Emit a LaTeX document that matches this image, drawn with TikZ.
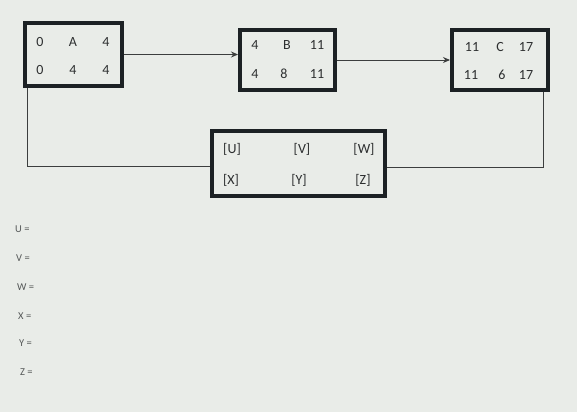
\documentclass[tikz,border=0pt]{standalone}
\usepackage{fontspec}
\setmainfont{Carlito}
\usetikzlibrary{arrows.meta}
\definecolor{bg}{RGB}{233,236,232}
\definecolor{boxc}{RGB}{28,33,36}
\definecolor{txt}{RGB}{45,47,48}
\definecolor{lbl}{RGB}{85,88,88}
\definecolor{linec}{RGB}{60,62,62}
\begin{document}
\begin{tikzpicture}[x=1bp,y=-1bp,
  taskbox/.style={draw=boxc,line width=4bp,fill=none,inner sep=0pt},
  cell/.style={text=txt,font=\fontsize{14bp}{16bp}\selectfont,inner sep=0pt},
  dcell/.style={text=txt,font=\fontsize{14bp}{16bp}\selectfont,inner sep=0pt},
  ans/.style={text=lbl,font=\fontsize{10.5bp}{12bp}\selectfont,inner sep=0pt,anchor=west},
  conn/.style={draw=linec,line width=0.9bp},
  arr/.style={conn,-{Stealth[length=7bp,width=6bp]}}]
\fill[bg] (0,0) rectangle (577,412);
\useasboundingbox (0,0) rectangle (577,412);
% boxes
\node[taskbox,minimum width=97bp,minimum height=63bp] (A) at (73.5,54.5) {};
\node[taskbox,minimum width=95bp,minimum height=60bp] (B) at (287.5,60) {};
\node[taskbox,minimum width=96bp,minimum height=60bp] (C) at (500,60) {};
\node[taskbox,minimum width=173bp,minimum height=65bp] (D) at (298.5,163.5) {};
% A texts
\node[cell] (a1) at (40,42) {0};
\node[cell] (a2) at (73,42) {A};
\node[cell] (a3) at (106,42) {4};
\node[cell] (a4) at (40,70) {0};
\node[cell] (a5) at (73,70) {4};
\node[cell] (a6) at (106,70) {4};
% B texts
\node[cell] (b1) at (255,45) {4};
\node[cell] (b2) at (287,45) {B};
\node[cell] (b3) at (317,45) {11};
\node[cell] (b4) at (255,74) {4};
\node[cell] (b5) at (284,74) {8};
\node[cell] (b6) at (317,74) {11};
% C texts
\node[cell] (c1) at (472,47) {11};
\node[cell] (c2) at (500,47) {C};
\node[cell] (c3) at (526,47) {17};
\node[cell] (c4) at (471,75) {11};
\node[cell] (c5) at (502,75) {6};
\node[cell] (c6) at (526,75) {17};
% D texts
\node[dcell] (d1) at (232,149) {[U]};
\node[dcell] (d2) at (302,149) {[V]};
\node[dcell] (d3) at (364,149) {[W]};
\node[dcell] (d4) at (231,180) {[X]};
\node[dcell] (d5) at (299,180) {[Y]};
\node[dcell] (d6) at (363,180) {[Z]};
% connectors
\draw[arr] (A.east) -- (A.east -| B.west);
\draw[arr] (B.east) -- (C.west);
\coordinate (L) at (27,166);
\coordinate (R) at (543,167);
\draw[conn] (A.south -| L) -- (L) -- (L -| D.west);
\draw[conn] (D.east |- R) -- (R) -- (R |- C.south);
% answer labels
\node[ans] (u) at (15,229) {U =};
\node[ans] (v) at (16,258) {V =};
\node[ans] (w) at (17,287) {W =};
\node[ans] (x) at (18,316) {X =};
\node[ans] (y) at (19,343) {Y =};
\node[ans] (z) at (20,372) {Z =};
\end{tikzpicture}
\end{document}
